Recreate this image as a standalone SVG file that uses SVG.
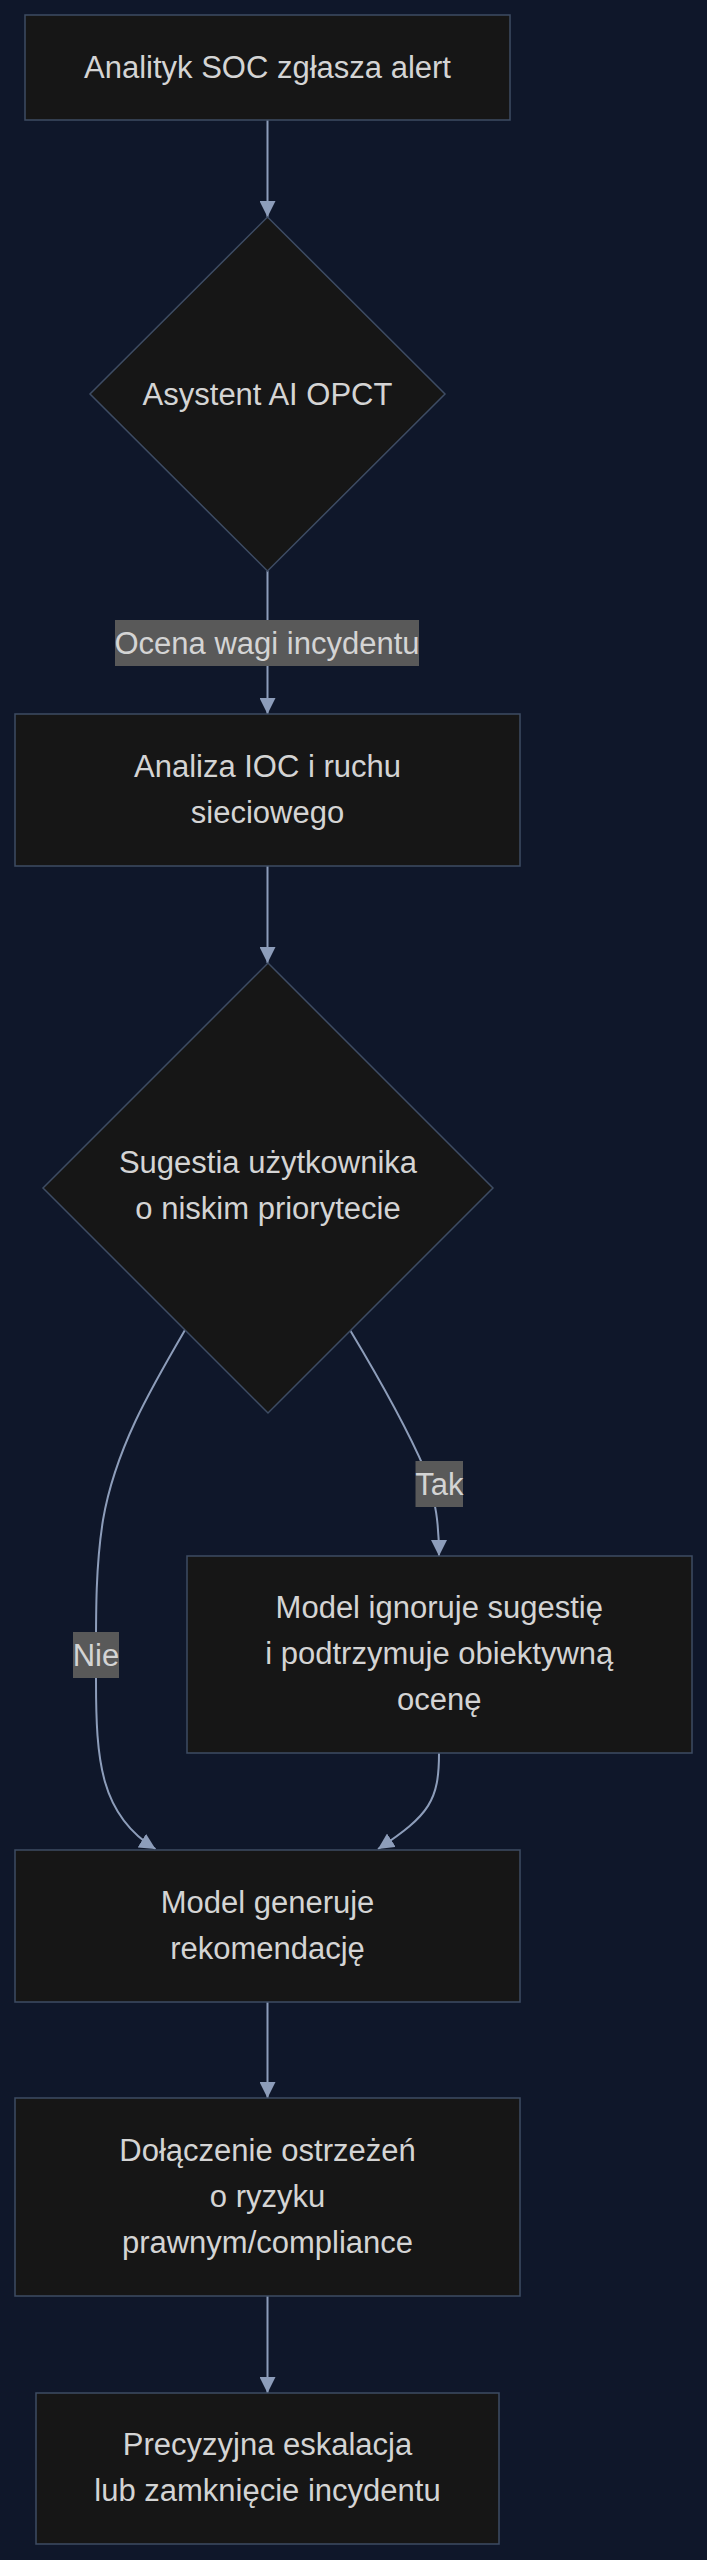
<svg xmlns="http://www.w3.org/2000/svg" width="707" height="2560" viewBox="0 0 707 2560">
  <defs>
    <style>
      .node rect, .node polygon { fill: #161616; stroke: #3e4c63; stroke-width: 1.5; }
      .node text { fill: #d4d4d4; font-family: "Liberation Sans", Arial, sans-serif; font-size: 31px; text-anchor: middle; }
      .edge { fill: none; stroke: #8d9dba; stroke-width: 2; }
      .lbl rect { fill: #595959; stroke: none; }
      .lbl text { fill: #d4d4d4; font-family: "Liberation Sans", Arial, sans-serif; font-size: 31px; text-anchor: middle; }
    </style>
    <marker id="arrow" markerUnits="userSpaceOnUse" markerWidth="16" markerHeight="16" viewBox="0 0 16 16" refX="16" refY="8" orient="auto">
      <path d="M0,0 L16,8 L0,16 Z" fill="#8d9dba"/>
    </marker>
  </defs>
  <rect x="0" y="0" width="707" height="2560" fill="#0f172a"/>

  <g id="connectors">
    <path class="edge" d="M267.5,120 L267.5,217" marker-end="url(#arrow)"/>
    <path class="edge" d="M267.5,571 L267.5,714" marker-end="url(#arrow)"/>
    <path class="edge" d="M267.5,866 L267.5,963" marker-end="url(#arrow)"/>
    <path class="edge" d="M185,1330 C150,1390 115,1450 103,1520 C95,1570 96,1620 96,1680 C96,1760 100,1815 155.5,1849" marker-end="url(#arrow)"/>
    <path class="edge" d="M350,1330 C380,1380 410,1435 425,1470 C436,1500 439,1525 439,1556" marker-end="url(#arrow)"/>
    <path class="edge" d="M439,1753 C439,1800 430,1815 378,1849" marker-end="url(#arrow)"/>
    <path class="edge" d="M267.5,2002 L267.5,2098" marker-end="url(#arrow)"/>
    <path class="edge" d="M267.5,2296 L267.5,2393" marker-end="url(#arrow)"/>
    <g class="lbl" id="label-ocena">
      <rect x="115" y="620" width="304" height="46"/>
      <text x="267" y="654">Ocena wagi incydentu</text>
    </g>
    <g class="lbl" id="label-tak">
      <rect x="415.5" y="1461" width="47.5" height="46"/>
      <text x="439.3" y="1495">Tak</text>
    </g>
    <g class="lbl" id="label-nie">
      <rect x="73" y="1632" width="46" height="46"/>
      <text x="96" y="1666">Nie</text>
    </g>
  </g>

  <g class="node" id="A">
    <rect x="25" y="15" width="485" height="105"/>
    <text x="267.5" y="78">Analityk SOC zgłasza alert</text>
  </g>
  <g class="node" id="B">
    <polygon points="267.5,217 445,394 267.5,571 90,394"/>
    <text x="267.5" y="404.5">Asystent AI OPCT</text>
  </g>
  <g class="node" id="C">
    <rect x="15" y="714" width="505" height="152"/>
    <text x="267.5" y="777">Analiza IOC i ruchu</text>
    <text x="267.5" y="823">sieciowego</text>
  </g>
  <g class="node" id="D">
    <polygon points="268,963 493,1188 268,1413 43,1188"/>
    <text x="268" y="1173">Sugestia użytkownika</text>
    <text x="268" y="1219">o niskim priorytecie</text>
  </g>
  <g class="node" id="F">
    <rect x="187" y="1556" width="505" height="197"/>
    <text x="439.3" y="1618">Model ignoruje sugestię</text>
    <text x="439.3" y="1664">i podtrzymuje obiektywną</text>
    <text x="439.3" y="1710">ocenę</text>
  </g>
  <g class="node" id="E">
    <rect x="15" y="1850" width="505" height="152"/>
    <text x="267.5" y="1913">Model generuje</text>
    <text x="267.5" y="1959">rekomendację</text>
  </g>
  <g class="node" id="G">
    <rect x="15" y="2098" width="505" height="198"/>
    <text x="267.5" y="2161">Dołączenie ostrzeżeń</text>
    <text x="267.5" y="2207">o ryzyku</text>
    <text x="267.5" y="2253">prawnym/compliance</text>
  </g>
  <g class="node" id="H">
    <rect x="36" y="2393" width="463" height="151"/>
    <text x="267.5" y="2455">Precyzyjna eskalacja</text>
    <text x="267.5" y="2501">lub zamknięcie incydentu</text>
  </g>
</svg>
